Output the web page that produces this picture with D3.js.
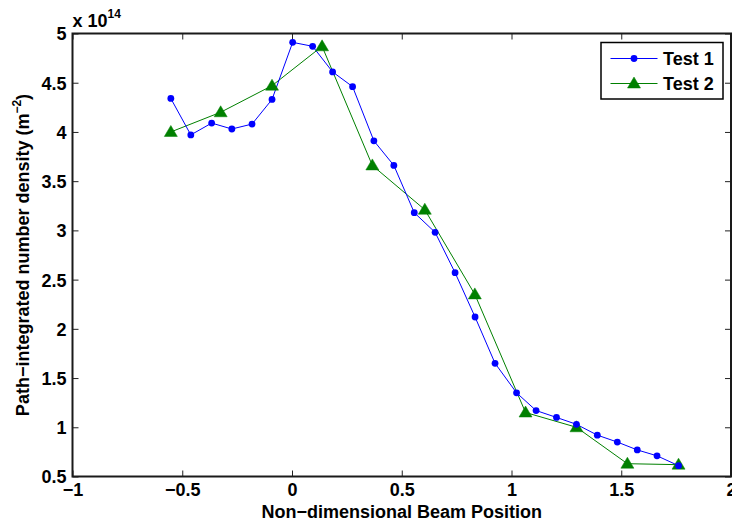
<!DOCTYPE html>
<html><head><meta charset="utf-8">
<script src="https://cdn.jsdelivr.net/npm/d3@7"></script>
<style>
html,body{margin:0;padding:0;background:#fff;}
svg text{font-family:"Liberation Sans",Arial,sans-serif;font-weight:bold;}
</style></head>
<body><svg id="chart" width="732" height="525"></svg>
<script>
const test1X = [-0.552,-0.461,-0.366,-0.274,-0.182,-0.091,0.003,0.094,0.185,0.276,0.373,0.464,0.557,0.652,0.743,0.834,0.925,1.023,1.112,1.205,1.296,1.391,1.482,1.573,1.663,1.761];
const test1Y = [4.34,3.97,4.09,4.03,4.08,4.33,4.91,4.87,4.61,4.46,3.91,3.66,3.18,2.98,2.57,2.12,1.65,1.35,1.17,1.10,1.03,0.92,0.85,0.77,0.71,0.61];
const test2X = [-0.552,-0.325,-0.091,0.137,0.366,0.605,0.833,1.064,1.296,1.528,1.761];
const test2Y = [4.00,4.20,4.47,4.87,3.66,3.21,2.35,1.15,1.00,0.63,0.62];
const xTicks = [-1,-0.5,0,0.5,1,1.5,2];
const yTicks = [0.5,1,1.5,2,2.5,3,3.5,4,4.5,5];
const seriesNames = ["Test 1","Test 2"];
const seriesColors = ["#0000ff","#008000"];

const svg = d3.select("#chart");
const L = 72.5, R = 731, T = 33.5, B = 476.5;
const x = d3.scaleLinear().domain([-1,2]).range([L,R]);
const y = d3.scaleLinear().domain([0.5,5]).range([B,T]);
const fmt = v => (v<0?"\u2212":"") + String(Math.abs(v));

// axes with inward ticks
const gx = svg.append("g").attr("transform",`translate(0,${B})`)
  .call(d3.axisBottom(x).tickValues(xTicks).tickFormat(fmt).tickSizeInner(-6).tickSizeOuter(0).tickPadding(7));
const gxt = svg.append("g").attr("transform",`translate(0,${T})`)
  .call(d3.axisTop(x).tickValues(xTicks).tickFormat("").tickSizeInner(-6).tickSizeOuter(0));
const gy = svg.append("g").attr("transform",`translate(${L},0)`)
  .call(d3.axisLeft(y).tickValues(yTicks).tickFormat(fmt).tickSizeInner(-6).tickSizeOuter(0).tickPadding(6));
const gyr = svg.append("g").attr("transform",`translate(${R},0)`)
  .call(d3.axisRight(y).tickValues(yTicks).tickFormat("").tickSizeInner(-6).tickSizeOuter(0));
[gx,gxt,gy,gyr].forEach(g=>{
  g.select(".domain").remove();
  g.selectAll(".tick line").attr("stroke","#222").attr("stroke-width",1);
  g.selectAll(".tick text").attr("fill","#000").style("font-size","18px").style("font-family","'Liberation Sans',Arial,sans-serif").style("font-weight","bold");
});
gy.selectAll(".tick text").attr("dy","0.36em");
gx.selectAll(".tick text").attr("dy","0.72em");

svg.append("rect").attr("x",L).attr("y",T).attr("width",R-L).attr("height",B-T)
  .attr("fill","none").attr("stroke","#1a1a1a").attr("stroke-width",2);

// exponent
const ex = svg.append("text").attr("x",L).attr("y",27).style("font-size","18px").attr("fill","#000");
ex.append("tspan").text("x 10");
ex.append("tspan").attr("dy",-9).style("font-size","12px").text("14");

// axis labels
svg.append("text").attr("x",(L+R)/2).attr("y",518).attr("text-anchor","middle")
  .style("font-size","18px").attr("fill","#000").text("Non\u2212dimensional Beam Position");
const yl = svg.append("text").attr("transform",`translate(29,${(T+B)/2}) rotate(-90)`)
  .attr("text-anchor","middle").style("font-size","18px").attr("fill","#000");
yl.append("tspan").text("Path\u2212integrated number density (m");
yl.append("tspan").attr("dy",-8).style("font-size","12px").text("\u22122");
yl.append("tspan").attr("dy",8).text(")");

// series
const d1 = test1X.map((v,i)=>[v,test1Y[i]]);
const d2 = test2X.map((v,i)=>[v,test2Y[i]]);
const line = d3.line().x(d=>x(d[0])).y(d=>y(d[1]));
const tri = "M0,-6.5L6.5,4.5L-6.5,4.5Z";

svg.append("path").datum(d2).attr("d",line).attr("fill","none").attr("stroke",seriesColors[1]).attr("stroke-width",1);
svg.append("path").datum(d1).attr("d",line).attr("fill","none").attr("stroke",seriesColors[0]).attr("stroke-width",1);
svg.append("g").selectAll("path").data(d2).join("path")
  .attr("transform",d=>`translate(${x(d[0])},${y(d[1])})`).attr("d",tri)
  .attr("fill",seriesColors[1]).attr("stroke",seriesColors[1]).attr("stroke-width",0.5);
svg.append("g").selectAll("circle").data(d1).join("circle")
  .attr("cx",d=>x(d[0])).attr("cy",d=>y(d[1])).attr("r",3.4).attr("fill",seriesColors[0]);

// legend
const lg = svg.append("g");
lg.append("rect").attr("x",601).attr("y",42.5).attr("width",122).attr("height",56.5)
  .attr("fill","#fff").attr("stroke","#000").attr("stroke-width",1.5);
seriesNames.forEach((n,i)=>{
  const cy = 58.5 + i*25;
  lg.append("line").attr("x1",610.5).attr("x2",657.5).attr("y1",cy).attr("y2",cy)
    .attr("stroke",seriesColors[i]).attr("stroke-width",1);
  if(i===0) lg.append("circle").attr("cx",634).attr("cy",cy).attr("r",3.4).attr("fill",seriesColors[0]);
  else lg.append("path").attr("transform",`translate(634,${cy})`).attr("d",tri).attr("fill",seriesColors[1]).attr("stroke",seriesColors[1]).attr("stroke-width",0.5);
  lg.append("text").attr("x",663).attr("y",cy).attr("dy","0.36em").style("font-size","18px").attr("fill","#000").text(n);
});
</script></body></html>
